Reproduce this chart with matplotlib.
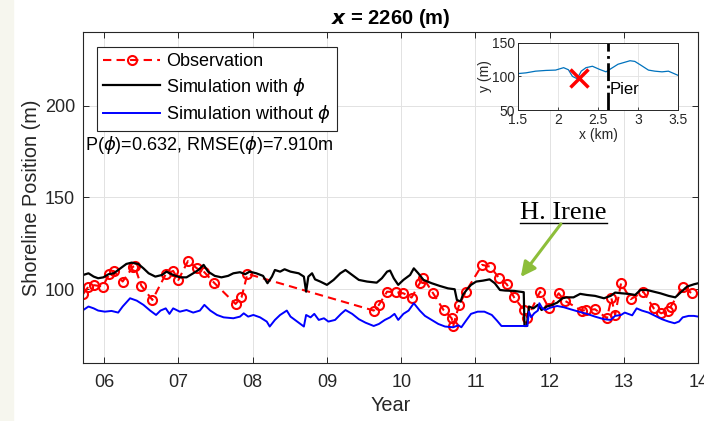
import numpy as np
import matplotlib.pyplot as plt
from matplotlib.patches import Rectangle

plt.rcParams['font.family'] = ['Liberation Sans', 'DejaVu Sans']
plt.rcParams['mathtext.fontset'] = 'dejavusans'

# Simulation with phi (black)
with_year = [2005.72, 2005.79, 2005.86, 2005.92, 2005.99, 2006.06, 2006.13, 2006.22, 2006.30, 2006.37,
             2006.46, 2006.53, 2006.60, 2006.69, 2006.78, 2006.84, 2006.93, 2007.02, 2007.11, 2007.20,
             2007.27, 2007.34, 2007.40, 2007.49, 2007.58, 2007.67, 2007.74, 2007.83, 2007.90, 2007.96,
             2008.05, 2008.14, 2008.20, 2008.26, 2008.30, 2008.37, 2008.43, 2008.51, 2008.62, 2008.69,
             2008.72, 2008.75, 2008.80, 2008.84, 2008.91, 2009.00, 2009.09, 2009.18, 2009.25, 2009.34,
             2009.43, 2009.54, 2009.67, 2009.74, 2009.81, 2009.85, 2009.90, 2009.96, 2010.03, 2010.12,
             2010.17, 2010.23, 2010.30, 2010.41, 2010.52, 2010.63, 2010.72, 2010.75, 2010.80, 2010.83,
             2010.88, 2010.94, 2011.01, 2011.10, 2011.19, 2011.26, 2011.33, 2011.40, 2011.52, 2011.65,
             2011.66, 2011.69, 2011.72, 2011.78, 2011.84, 2011.89, 2011.96, 2012.03, 2012.10, 2012.17,
             2012.23, 2012.32, 2012.41, 2012.50, 2012.61, 2012.73, 2012.82, 2012.88, 2012.97, 2013.06,
             2013.15, 2013.22, 2013.31, 2013.40, 2013.49, 2013.60, 2013.69, 2013.76, 2013.85, 2013.94,
             2014.0]
with_val = [107.8, 108.7, 106.9, 106.0, 106.5, 108.2, 108.7, 111.4, 113.8, 114.5,
            113.8, 111.4, 108.7, 106.9, 107.8, 109.6, 107.8, 106.5, 106.5, 108.7,
            110.5, 113.3, 109.6, 107.3, 106.5, 107.3, 108.7, 109.3, 108.2, 109.6,
            108.7, 107.3, 103.3, 106.9, 110.5, 109.6, 110.9, 109.6, 108.7, 106.9,
            98.7, 106.9, 108.7, 105.4, 104.2, 102.4, 105.1, 108.7, 110.5, 107.8,
            105.1, 104.2, 103.6, 106.0, 109.6, 110.2, 106.0, 102.4, 105.1, 107.8,
            111.4, 108.7, 105.1, 103.3, 101.8, 100.5, 100.0, 94.2, 93.3, 96.9,
            99.6, 102.4, 104.2, 104.7, 105.4, 103.3, 99.6, 99.3, 99.1, 98.4,
            80.0, 80.0, 90.6, 89.6, 91.5, 88.7, 90.6, 91.5, 92.7, 95.1,
            95.6, 95.6, 97.5, 96.9, 96.4, 95.1, 96.4, 98.2, 97.8, 97.5,
            96.9, 99.6, 99.6, 98.7, 97.8, 96.4, 95.6, 98.2, 101.5, 102.7,
            103.3]

# Simulation without phi (blue)
without_year = [2005.72, 2005.79, 2005.86, 2005.92, 2006.01, 2006.10, 2006.19, 2006.25, 2006.35, 2006.44,
                2006.53, 2006.62, 2006.70, 2006.76, 2006.83, 2006.88, 2006.93, 2007.02, 2007.11, 2007.20,
                2007.29, 2007.35, 2007.43, 2007.52, 2007.61, 2007.74, 2007.83, 2007.88, 2007.94, 2008.01,
                2008.10, 2008.19, 2008.23, 2008.30, 2008.37, 2008.46, 2008.51, 2008.60, 2008.69, 2008.72,
                2008.78, 2008.83, 2008.89, 2008.96, 2009.02, 2009.11, 2009.19, 2009.25, 2009.34, 2009.43,
                2009.52, 2009.63, 2009.70, 2009.78, 2009.85, 2009.91, 2009.96, 2010.03, 2010.10, 2010.17,
                2010.25, 2010.32, 2010.41, 2010.50, 2010.59, 2010.70, 2010.77, 2010.81, 2010.88, 2010.94,
                2011.03, 2011.12, 2011.22, 2011.29, 2011.35, 2011.47, 2011.70, 2011.72, 2011.75, 2011.79,
                2011.84, 2011.86, 2011.90, 2011.94, 2012.01, 2012.10, 2012.19, 2012.28, 2012.39, 2012.50,
                2012.61, 2012.73, 2012.82, 2012.88, 2012.96, 2013.01, 2013.11, 2013.17, 2013.24, 2013.33,
                2013.42, 2013.51, 2013.60, 2013.68, 2013.74, 2013.79, 2013.87, 2013.94, 2014.0]
without_val = [88.7, 90.6, 89.6, 88.4, 87.8, 88.2, 87.3, 90.6, 95.1, 93.8,
               91.5, 88.4, 86.0, 88.4, 89.6, 86.6, 89.6, 87.8, 88.7, 87.3,
               88.4, 91.5, 88.4, 86.0, 84.7, 84.2, 85.1, 86.9, 85.1, 86.0,
               84.7, 82.4, 79.7, 83.3, 86.0, 88.4, 85.1, 82.4, 79.7, 86.0,
               84.7, 86.6, 83.3, 84.2, 82.4, 83.3, 86.6, 88.7, 86.6, 83.7,
               81.8, 80.0, 81.1, 83.3, 84.7, 86.6, 83.3, 86.6, 88.4, 92.4,
               88.4, 85.5, 83.3, 81.1, 79.7, 79.3, 80.4, 79.3, 83.3, 86.6,
               87.8, 87.8, 86.0, 82.9, 80.0, 80.0, 80.0, 87.8, 84.7, 86.9,
               88.4, 92.4, 89.6, 88.7, 90.0, 90.9, 90.2, 89.1, 87.8, 86.6,
               85.1, 83.7, 83.3, 85.5, 86.0, 87.3, 85.8, 89.6, 88.4, 87.3,
               85.5, 83.7, 82.4, 81.5, 82.4, 84.7, 85.5, 85.5, 85.1]

# Observations (red)
obs_year = [2005.72, 2005.79, 2005.87, 2005.98, 2006.07, 2006.13, 2006.25, 2006.39, 2006.41, 2006.50,
            2006.65, 2006.83, 2006.93, 2007.00, 2007.13, 2007.25, 2007.35, 2007.48, 2007.77, 2007.85,
            2007.93, 2009.63, 2009.70, 2009.81, 2009.93, 2010.03, 2010.14, 2010.25, 2010.30, 2010.43,
            2010.57, 2010.68, 2010.70, 2010.78, 2010.87, 2011.09, 2011.20, 2011.32, 2011.42, 2011.52,
            2011.65, 2011.70, 2011.87, 2011.99, 2012.12, 2012.20, 2012.43, 2012.49, 2012.61, 2012.77,
            2012.83, 2012.88, 2012.96, 2013.09, 2013.26, 2013.40, 2013.50, 2013.59, 2013.63, 2013.79,
            2013.91]
obs_val = [97.5, 101.5, 102.2, 101.5, 108.2, 110.0, 104.2, 112.3, 112.7, 102.0,
           94.2, 108.2, 110.0, 105.1, 115.4, 111.4, 109.3, 103.6, 92.0, 95.6,
           108.4, 88.4, 91.5, 98.7, 98.4, 97.8, 95.5, 103.3, 106.0, 97.8,
           88.7, 84.2, 80.0, 91.5, 98.7, 113.3, 112.3, 106.0, 102.8, 95.6,
           88.7, 84.5, 98.7, 89.6, 97.8, 93.8, 88.4, 88.7, 89.1, 84.2,
           95.1, 86.0, 103.3, 94.6, 98.7, 89.6, 86.9, 88.4, 90.6, 101.5,
           97.8]

# Inset: shoreline along the coast
inset_x_km = [1.50, 1.60, 1.72, 1.85, 1.97, 2.07, 2.13, 2.18, 2.24, 2.29, 2.35, 2.43, 2.52,
              2.60, 2.66, 2.75, 2.90, 2.96, 3.03, 3.13, 3.21, 3.30, 3.38, 3.45, 3.50]
inset_y_m = [104.1, 105.2, 107.7, 108.8, 109.3, 112.9, 109.8, 100.0, 96.4, 107.7, 112.9, 115.0, 110.3,
             106.7, 111.3, 118.0, 123.2, 122.2, 117.0, 109.3, 107.7, 106.7, 107.7, 104.1, 101.5]
site_km, site_y = 2.26, 97
pier_km = 2.63

year_ticks = [2006, 2007, 2008, 2009, 2010, 2011, 2012, 2013, 2014]
year_labels = ['06', '07', '08', '09', '10', '11', '12', '13', '14']

dark = '#262626'

fig = plt.figure(figsize=(7.04, 4.21), dpi=100)
fig.patches.append(Rectangle((0, 0), 12.7 / 704, 1, transform=fig.transFigure,
                             color='#f6f6ee', zorder=-1))

ax = fig.add_axes([0.1183, 0.1385, 0.8736, 0.7848])
ax.plot(obs_year, obs_val, '--o', color='red', lw=1.5, ms=6.5, mfc='none', mew=1.5,
        dashes=(4, 2.5), label='Observation')
ax.plot(with_year, with_val, color='black', lw=1.6, label=r'Simulation with $\phi$')
ax.plot(without_year, without_val, color='blue', lw=1.4, label=r'Simulation without $\phi$')

ax.set_xlim(2005.72, 2014)
ax.set_ylim(60, 240)
ax.set_xticks(year_ticks)
ax.set_xticklabels(year_labels)
ax.set_yticks([100, 150, 200])
ax.grid(True, color='#e2e2e2', lw=0.7)
ax.set_axisbelow(True)
ax.tick_params(direction='in', top=True, right=True, length=4, width=0.7,
               labelsize=13, colors=dark)
ax.tick_params(axis='x', pad=8)
ax.tick_params(axis='y', pad=6)
for s in ax.spines.values():
    s.set_color(dark)
    s.set_linewidth(0.8)

ax.set_xlabel('Year', fontsize=14.3, color=dark, labelpad=4)
ax.set_ylabel('Shoreline Position (m)', fontsize=14.3, color=dark, labelpad=3)
ax.set_title(r'$\mathbfit{x}$ = 2260 (m)', fontsize=14.5, fontweight='bold', pad=6)

leg = ax.legend(loc='upper left', bbox_to_anchor=(0.022, 0.956), borderaxespad=0,
                fontsize=13, handlelength=3.15, handletextpad=0.35, labelspacing=0.3,
                borderpad=0.35, fancybox=False, framealpha=1, edgecolor=dark)
leg.get_frame().set_linewidth(0.8)

ax.text(0.002, 0.659, r'P($\phi$)=0.632, RMSE($\phi$)=7.910m', transform=ax.transAxes,
        fontsize=13, va='center', ha='left')

# H. Irene annotation
ax.annotate('', xy=(2011.61, 106.7), xytext=(2012.15, 135.6),
            arrowprops=dict(arrowstyle='-|>', color='#8dbe3a', lw=2.2, mutation_scale=22,
                            shrinkA=0, shrinkB=0))
ax.text(2012.18, 138.4, 'H. Irene', family='Liberation Serif', fontsize=19,
        ha='center', va='baseline')
ax.plot([2011.60, 2012.77], [136.1, 136.1], color='black', lw=1.0)

# inset map
axi = fig.add_axes([0.7358, 0.7387, 0.2273, 0.1599])
axi.plot(inset_x_km, inset_y_m, color='#0072bd', lw=0.9)
axi.plot([site_km], [site_y], 'x', color='red', ms=13, mew=2.5)
axi.axvline(pier_km, color='black', lw=2, ls='-.')
axi.text(pier_km + 0.02, 81, 'Pier', fontsize=12, va='center', ha='left')
axi.set_xlim(1.5, 3.5)
axi.set_ylim(50, 150)
axi.set_xticks([1.5, 2, 2.5, 3, 3.5])
axi.set_xticklabels(['1.5', '2', '2.5', '3', '3.5'])
axi.set_yticks([50, 100, 150])
axi.grid(True, color='#e2e2e2', lw=0.6)
axi.set_axisbelow(True)
axi.tick_params(direction='in', length=2.5, width=0.6, labelsize=10, colors=dark, pad=2)
for s in axi.spines.values():
    s.set_color(dark)
    s.set_linewidth(0.7)
axi.set_xlabel('x (km)', fontsize=10, color=dark, labelpad=1)
axi.set_ylabel('y (m)', fontsize=10, color=dark, labelpad=0)

fig.savefig('out.png', dpi=100)
